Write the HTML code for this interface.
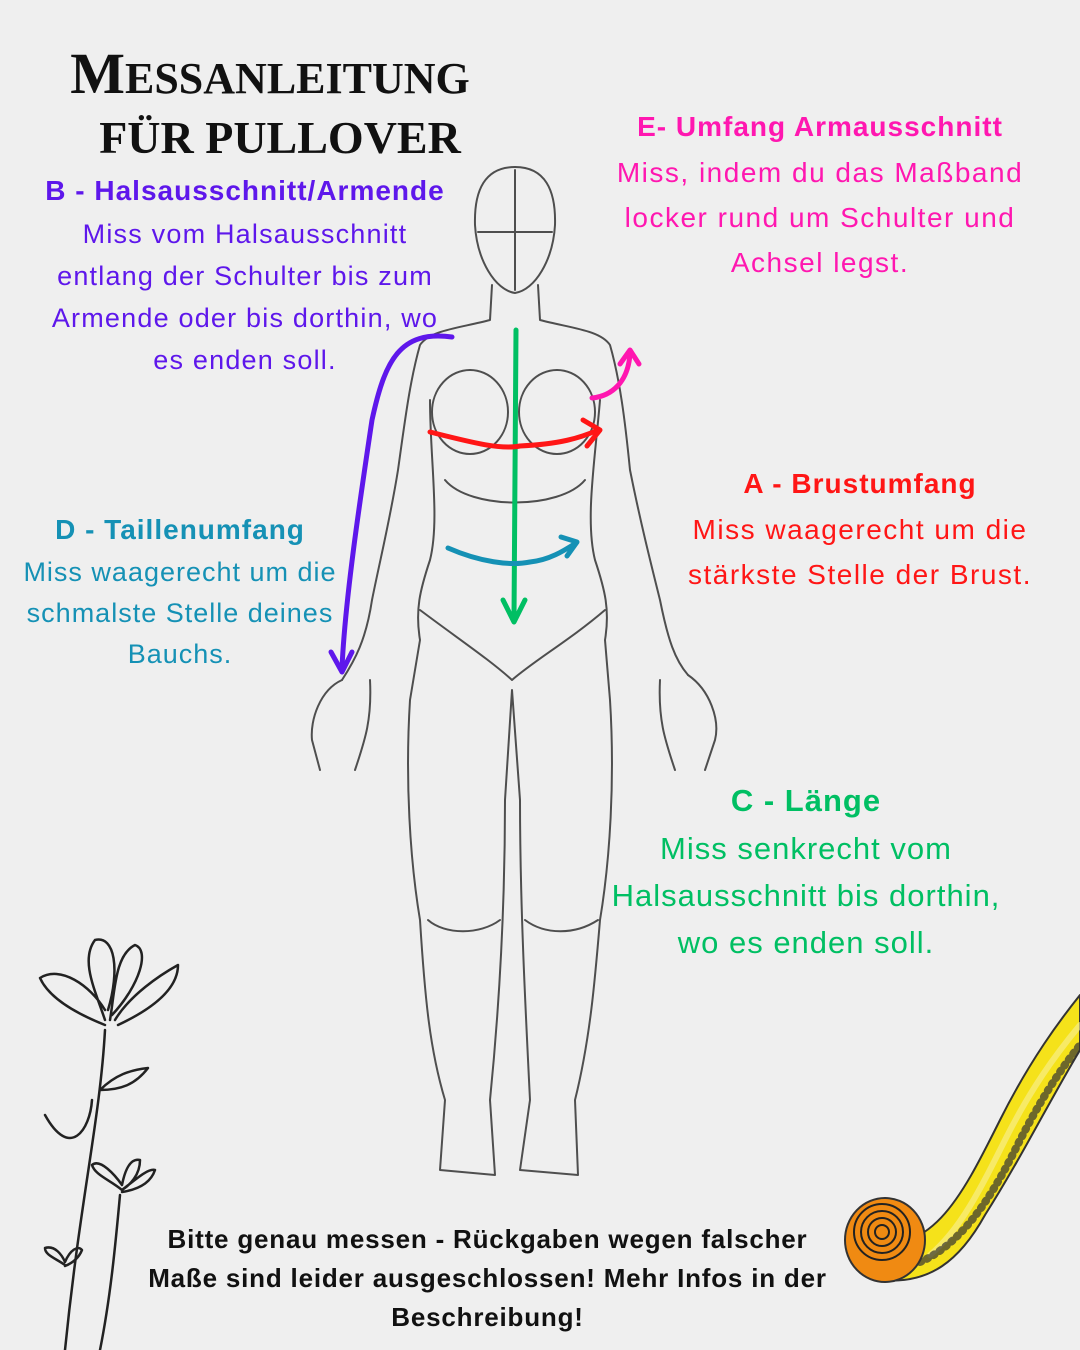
<!DOCTYPE html>
<html><head><meta charset="utf-8"><style>
html,body{margin:0;padding:0}
body{width:1080px;height:1350px;background:#efefef;position:relative;overflow:hidden;font-family:"Liberation Sans",sans-serif}
.t{position:absolute;text-align:center;white-space:nowrap}
.h{font-weight:bold;font-size:28px}
.b{font-size:27px;line-height:42px}
.ti{font-family:'Liberation Serif',serif;font-weight:bold;color:#111}
</style></head><body>
<div class="t ti" style="left:40px;width:460px;top:42px;line-height:64px"><span style="font-size:58px">M</span><span style="font-size:44px">ESSANLEITUNG</span></div>
<div class="t ti" style="left:50px;width:460px;top:106px;line-height:64px;font-size:46px">FÜR PULLOVER</div>

<div class="t h" style="left:20px;width:450px;top:175px;color:#5e17eb;letter-spacing:1px">B - Halsausschnitt/Armende</div>
<div class="t b" style="left:20px;width:450px;top:213px;color:#5e17eb;letter-spacing:1.2px">Miss vom Halsausschnitt<br>entlang der Schulter bis zum<br>Armende oder bis dorthin, wo<br>es enden soll.</div>

<div class="t h" style="left:600px;width:440px;top:111px;color:#ff17b0;letter-spacing:1px">E- Umfang Armausschnitt</div>
<div class="t b" style="left:600px;width:440px;top:150px;color:#ff17b0;line-height:45px;font-size:28px;letter-spacing:1.5px">Miss, indem du das Maßband<br>locker rund um Schulter und<br>Achsel legst.</div>

<div class="t h" style="left:640px;width:440px;top:468px;color:#ff1616;letter-spacing:1px">A - Brustumfang</div>
<div class="t b" style="left:640px;width:440px;top:507px;color:#ff1616;line-height:45px;font-size:28px;letter-spacing:1.5px">Miss waagerecht um die<br>stärkste Stelle der Brust.</div>

<div class="t h" style="left:0;width:360px;top:514px;color:#1591b5;letter-spacing:1px">D - Taillenumfang</div>
<div class="t b" style="left:0;width:360px;top:552px;color:#1591b5;line-height:41px;letter-spacing:1px">Miss waagerecht um die<br>schmalste Stelle deines<br>Bauchs.</div>

<div class="t h" style="left:586px;width:440px;top:783px;color:#00bf63;font-size:31px;letter-spacing:1px">C - Länge</div>
<div class="t b" style="left:586px;width:440px;top:825px;color:#00bf63;font-size:31px;line-height:47px;letter-spacing:1px">Miss senkrecht vom<br>Halsausschnitt bis dorthin,<br>wo es enden soll.</div>

<div class="t" style="left:100px;width:775px;top:1220px;font-weight:bold;font-size:26px;line-height:39px;color:#111;letter-spacing:0.8px">Bitte genau messen - Rückgaben wegen falscher<br>Maße sind leider ausgeschlossen! Mehr Infos in der<br>Beschreibung!</div>

<svg width="1080" height="1350" style="position:absolute;left:0;top:0" fill="none" stroke-linecap="round" stroke-linejoin="round">
<g stroke="#333" stroke-width="2" opacity="0.85">
<path d="M515 167 C545 167 556 190 555 225 C553 260 535 290 515 293 C495 290 477 260 475 225 C474 190 485 167 515 167Z"/>
<path d="M515 170 L515 290 M478 232 L552 232"/>
<path d="M492 285 L490 320 C460 328 430 330 420 345 C410 380 405 420 398 470 C390 520 380 560 372 600 C366 640 355 660 342 680 M538 285 L540 320 C570 328 600 330 610 345 C620 380 625 420 630 470 C640 520 650 560 660 600 C668 640 675 660 688 675"/>
<path d="M430 400 C430 460 440 520 430 560 C420 590 415 610 420 640 L410 700 C405 780 410 860 420 920 C425 1000 430 1050 445 1100 L440 1170 L495 1175 L490 1100 C500 1000 505 900 505 800 L512 690 L520 800 C520 900 525 1000 530 1100 L520 1170 L578 1175 L575 1100 C590 1040 595 980 600 920 C610 860 615 780 610 700 L605 640 C610 610 605 590 595 560 C585 520 595 460 600 400"/>
<ellipse cx="470" cy="412" rx="38" ry="42"/><ellipse cx="557" cy="412" rx="38" ry="42"/>
<path d="M445 480 C470 510 560 510 585 480 M420 610 C460 640 490 660 512 680 C535 660 570 640 605 610"/>
<path d="M342 680 C320 690 310 720 312 740 L320 770 M370 680 C372 720 365 740 355 770 M688 675 C710 690 720 720 715 740 L705 770 M660 680 C658 720 665 740 675 770"/>
<path d="M428 920 C445 935 480 935 500 920 M525 920 C545 935 575 935 598 920"/>
</g>
<path d="M452 337 C400 330 385 360 372 420 C360 500 345 600 342 668" stroke="#5e17eb" stroke-width="5"/>
<path d="M331 652 L342 672 L352 652" stroke="#5e17eb" stroke-width="5"/>
<path d="M516 330 L514 618" stroke="#00bf63" stroke-width="5"/>
<path d="M503 600 L514 622 L525 600" stroke="#00bf63" stroke-width="5"/>
<path d="M430 432 C470 442 500 450 520 446 C560 444 580 438 598 430" stroke="#ff1616" stroke-width="5"/>
<path d="M583 420 L600 430 L587 446" stroke="#ff1616" stroke-width="5"/>
<path d="M448 548 C480 562 510 566 530 562 C550 560 565 550 576 543" stroke="#1591b5" stroke-width="5"/>
<path d="M561 537 L577 542 L567 556" stroke="#1591b5" stroke-width="5"/>
<path d="M592 398 C612 396 628 382 630 354" stroke="#ff17b0" stroke-width="5"/>
<path d="M620 364 L630 350 L639 364" stroke="#ff17b0" stroke-width="5"/>
<g stroke="#222" stroke-width="2.5">
<path d="M105 1030 C100 1120 80 1200 65 1350"/>
<path d="M92 1100 C90 1130 70 1160 45 1115 M100 1090 C115 1075 130 1070 148 1068 C135 1085 120 1090 100 1090"/>
<path d="M105 1025 C80 1015 50 1000 40 978 C60 965 90 985 105 1010 M105 1020 C95 990 80 960 95 940 C115 935 120 970 108 1010 M110 1020 C115 990 115 955 135 945 C150 950 140 985 112 1015 M115 1020 C130 995 160 975 178 965 C178 990 150 1010 118 1025"/>
<path d="M120 1195 C115 1250 110 1300 100 1350 M122 1190 C110 1180 95 1175 92 1165 C100 1158 115 1175 122 1185 C125 1170 130 1158 140 1160 C140 1175 130 1185 122 1190 C135 1180 148 1168 155 1170 C150 1185 135 1190 122 1192"/>
<path d="M65 1265 C55 1258 45 1255 45 1248 C55 1245 62 1255 65 1262 C70 1250 78 1245 82 1250 C78 1260 70 1264 65 1266"/>
</g>
<path d="M860 1240 C930 1260 960 1200 1000 1120 C1030 1060 1060 1020 1080 995 L1080 1050 C1050 1100 1020 1160 985 1215 C960 1260 930 1285 880 1280Z" fill="#f5e21a" stroke="#333" stroke-width="2"/>
<path d="M930 1255 C960 1230 980 1190 1005 1140 C1030 1090 1055 1055 1080 1025" stroke="#f8f09a" stroke-width="6" opacity=".6"/>
<path d="M920 1262 C960 1245 990 1200 1015 1150 C1040 1100 1060 1070 1080 1045" stroke="#333" stroke-width="8" stroke-dasharray="1.5 6" opacity=".7"/>
<ellipse cx="885" cy="1240" rx="40" ry="42" fill="#f08a12" stroke="#333" stroke-width="2"/>
<g stroke="#222" stroke-width="2"><circle cx="882" cy="1232" r="28"/><circle cx="882" cy="1232" r="21"/><circle cx="882" cy="1232" r="14"/><circle cx="882" cy="1232" r="7"/></g>
</svg>
</body></html>
